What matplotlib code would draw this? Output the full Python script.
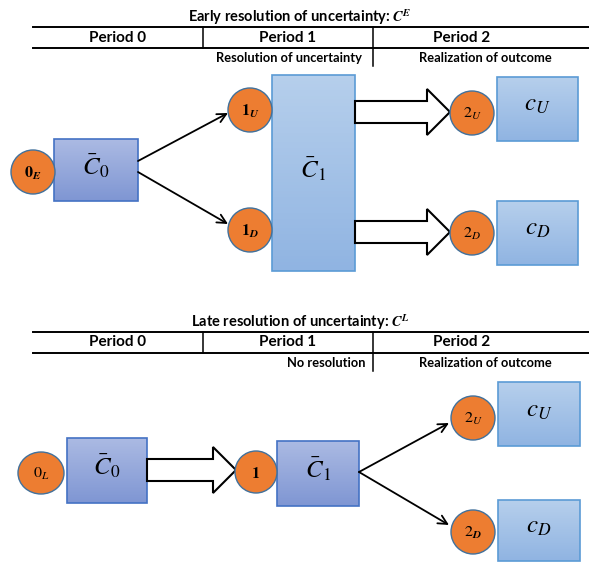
import numpy as np
import matplotlib
matplotlib.use("Agg")
import matplotlib.pyplot as plt
from matplotlib.patches import Rectangle, Ellipse, Polygon
from matplotlib.colors import to_rgb

plt.rcParams['mathtext.fontset'] = 'stix'
plt.rcParams['font.family'] = ['Lato', 'DejaVu Sans']

# texts of the two panels
titles = [r'Early resolution of uncertainty: $\mathbfit{C}^{\mathbfit{E}}$',
          r'Late resolution of uncertainty: $\mathbfit{C}^{\mathbfit{L}}$']
periods = ['Period 0', 'Period 1', 'Period 2']
sub_top = ['Resolution of uncertainty', 'Realization of outcome']
sub_bot = ['No resolution', 'Realization of outcome']

# node labels
early_circles = [r'$\mathbf{0}_{\mathbfit{E}}$', r'$\mathbf{1}_{\mathbfit{U}}$',
                 r'$\mathbf{1}_{\mathbfit{D}}$', r'$2_{\mathit{U}}$', r'$2_{\mathit{D}}$']
late_circles = [r'$0_{\mathit{L}}$', r'$\mathbf{1}$', r'$2_{\mathit{U}}$', r'$2_{\mathbfit{D}}$']
box_labels = [r'$\bar{C}_0$', r'$\bar{C}_1$', r'$c_U$', r'$c_D$']

ORANGE = '#ED7D31'
RING = '#41719C'
PURP = ('#ABBAE3', '#7F96D3', '#4472C4')
LBLUE = ('#B6CFEC', '#90B4E2', '#5B9BD5')

fig = plt.figure(figsize=(5.89, 5.62), dpi=100)
ax = fig.add_axes([0, 0, 1, 1])
ax.axis('off')


def box(x0, y0, x1, y1, style, label, fs=18):
    top, bot, edge = style
    c0 = np.array(to_rgb(top))
    c1 = np.array(to_rgb(bot))
    t = np.linspace(0, 1, 64)[:, None, None]
    grad = c0 * (1 - t) + c1 * t
    ax.imshow(grad, extent=[x0, x1, y1, y0], aspect='auto', zorder=2)
    ax.add_patch(Rectangle((x0, y0), x1 - x0, y1 - y0, fill=False, ec=edge, lw=1.2, zorder=3))
    ax.text((x0 + x1) / 2, (y0 + y1) / 2 - 4, label, ha='center', va='center', fontsize=fs, zorder=4)


def node(x, y, label, w=44, h=44, fs=11.5):
    ax.add_patch(Ellipse((x, y), w, h, fc=ORANGE, ec=RING, lw=1, zorder=5))
    ax.text(x, y + 1, label, ha='center', va='center', fontsize=fs, zorder=6)


def block_arrow(x0, xh, xt, yc, shaft=22, head=46):
    pts = [(x0, yc - shaft / 2), (xh, yc - shaft / 2), (xh, yc - head / 2), (xt, yc),
           (xh, yc + head / 2), (xh, yc + shaft / 2), (x0, yc + shaft / 2)]
    ax.add_patch(Polygon(pts, closed=True, fc='white', ec='black', lw=1.5, zorder=3))


def arrow(p0, p1):
    ax.annotate('', xy=p1, xytext=p0,
                arrowprops=dict(arrowstyle='->', lw=1.3, color='black', mutation_scale=16,
                                shrinkA=0, shrinkB=0), zorder=4)


def header(y, title, subs):
    ax.text(300, y, title, ha='center', va='center', fontsize=10.5, fontweight='bold')
    l1, l2 = y + 10, y + 31
    ax.plot([33, 589], [l1, l1], color='black', lw=1.4)
    ax.plot([33, 589], [l2, l2], color='black', lw=1.4)
    for xd in (203, 373):
        ax.plot([xd, xd], [l1, l2], color='black', lw=1.1)
    ax.plot([373, 373], [l2, l2 + 18], color='black', lw=1.1)
    for xc, p in zip([118, 288, 462], periods):
        ax.text(xc, (l1 + l2) / 2, p, ha='center', va='center', fontsize=11, fontweight='bold')
    ax.text(289 if subs[0].startswith('R') else 326, l2 + 10, subs[0], ha='center', va='center',
            fontsize=9.3, fontweight='bold')
    ax.text(485, l2 + 10, subs[1], ha='center', va='center', fontsize=9.3, fontweight='bold')


# ---- early resolution panel
header(17, titles[0], sub_top)
box(54, 139, 138, 201, PURP, box_labels[0])
box(272, 75, 355, 271, LBLUE, box_labels[1])
box(497, 77, 578, 141, LBLUE, box_labels[2])
box(497, 201, 578, 265, LBLUE, box_labels[3])
node(33, 172, early_circles[0])
node(250, 110, early_circles[1])
node(250, 230, early_circles[2])
node(472, 113, early_circles[3])
node(472, 233, early_circles[4])
arrow((138, 161), (228, 113))
arrow((138, 172), (228, 224))
block_arrow(355, 427, 450, 112)
block_arrow(355, 427, 450, 232)

# ---- late resolution panel
header(322, titles[1], sub_bot)
box(67, 438, 147, 503, PURP, box_labels[0])
box(277, 441, 359, 506, PURP, box_labels[1])
box(498, 382, 580, 446, LBLUE, box_labels[2])
box(498, 500, 580, 561, LBLUE, box_labels[3])
node(41, 473, late_circles[0], w=46, h=42)
node(256, 472, late_circles[1], w=42, h=42)
node(473, 418, late_circles[2])
node(473, 532, late_circles[3])
block_arrow(147, 213, 236, 470)
arrow((359, 472), (449, 423))
arrow((359, 472), (449, 525))

ax.set_xlim(0, 589)
ax.set_ylim(562, 0)
fig.savefig('out.png', dpi=100)
